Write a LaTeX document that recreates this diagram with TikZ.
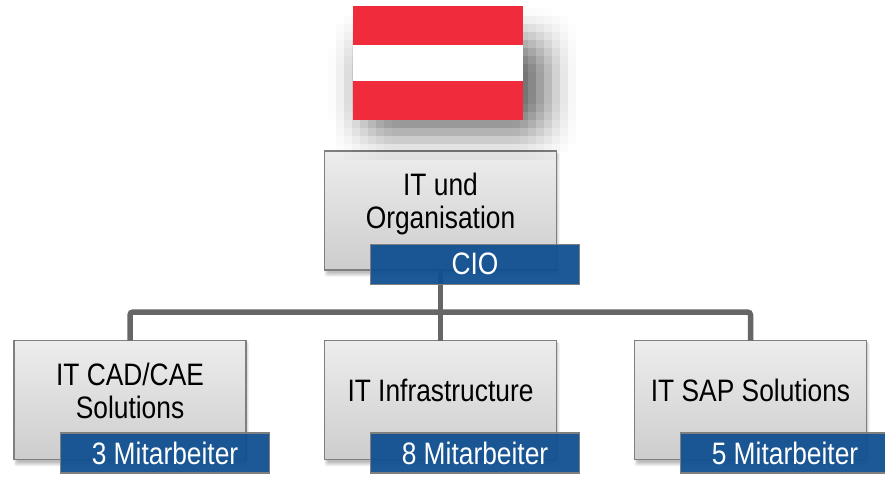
\documentclass[tikz,border=0pt]{standalone}
\usepackage{fontspec}
\setmainfont[FakeStretch=0.85]{Liberation Sans}
\definecolor{boxtop}{HTML}{EDEDED}
\definecolor{boxbot}{HTML}{CDCDCD}
\definecolor{boxline}{HTML}{7F7F7F}
\definecolor{bluefill}{HTML}{0F4F90}
\definecolor{connline}{HTML}{666666}
\definecolor{flagred}{HTML}{EF2B3C}
\tikzset{
  orgbox/.style={draw=boxline,line width=1.3pt,top color=boxtop,bottom color=boxbot,
    minimum width=232pt,minimum height=119pt,inner sep=0pt,outer sep=0pt},
  orgtext/.style={font=\fontsize{31pt}{33pt}\selectfont,text=black,align=center,inner sep=0pt},
  badge/.style={draw=boxline,line width=1.8pt,fill=bluefill,fill opacity=.94,text opacity=1,text=white,
    minimum width=209pt,minimum height=40pt,inner sep=0pt,outer sep=0pt,
    font=\fontsize{31pt}{33pt}\selectfont},
  conn/.style={draw=connline,line width=5.5pt},
  softshadow/.style={fill=black,fill opacity=.06,draw=none,rounded corners=2pt}
}
\begin{document}
\begin{tikzpicture}[x=1pt,y=-1pt]
\useasboundingbox (0,0) rectangle (885,477);
\clip (0,0) rectangle (885,477);
% soft shadows of the boxes
\foreach \bx/\by in {440.5/210.5,130/400,440.5/400,750.5/400}{
  \foreach \g in {0,1,...,4}{
    \fill[softshadow] (\bx-116+\g*.8,\by-58) rectangle (\bx+116+3-\g*.8,\by+60+6-\g);
  }
}
\coordinate (hub) at (440.5,312);
\node[orgbox] (top) at (440.5,210.5) {};
\node[orgbox] (left) at (130,400) {};
\node[orgbox] (mid) at (440.5,400) {};
\node[orgbox] (right) at (750.5,400) {};
% connectors
\draw[conn] (top.south) -- (mid.north);
\draw[conn,rounded corners=3pt] (left.north) -- (left.north|-hub) -- (right.north|-hub) -- (right.north);
% box labels
\node[orgtext] (toptext) at (440.5,203.5) {IT und\\Organisation};
\node[orgtext] (lefttext) at (130,391) {IT CAD/CAE\\Solutions};
\node[orgtext] (midtext) at (440.5,390) {IT Infrastructure};
\node[orgtext] (righttext) at (750.5,390) {IT SAP Solutions};
% badges
\node[badge] (b0) at (475,264.5) {\raisebox{1pt}{CIO}};
\node[badge] (b1) at (165,453) {3 Mitarbeiter};
\node[badge] (b2) at (475,453) {8 Mitarbeiter};
\node[badge] (b3) at (785,453) {5 Mitarbeiter};
% blurred flag shadow
\foreach \i in {0,1,...,33}{
  \foreach \j in {0,1,...,22}{
    \pgfmathsetmacro{\cx}{320+8*\i+4}
    \pgfmathsetmacro{\cy}{8*\j+4}
    \pgfmathsetmacro{\ax}{min(1,max(0,(min(\cx-362,546-\cx)+36)/72))}
    \pgfmathsetmacro{\ay}{min(1,max(0,(min(\cy-40,132-\cy)+36)/72))}
    \pgfmathsetmacro{\al}{.6*\ax*\ax*(3-2*\ax)*\ay*\ay*(3-2*\ay)}
    \pgfmathparse{\al>0.008 ? 1 : 0}
    \ifnum\pgfmathresult=1
      \fill[black,fill opacity=\al] (320+8*\i,8*\j) rectangle +(8,8);
    \fi
  }
}
% flag
\fill[flagred] (353,6) rectangle (523,120);
\fill[white] (353,44.5) rectangle (523,81);
\end{tikzpicture}
\end{document}
